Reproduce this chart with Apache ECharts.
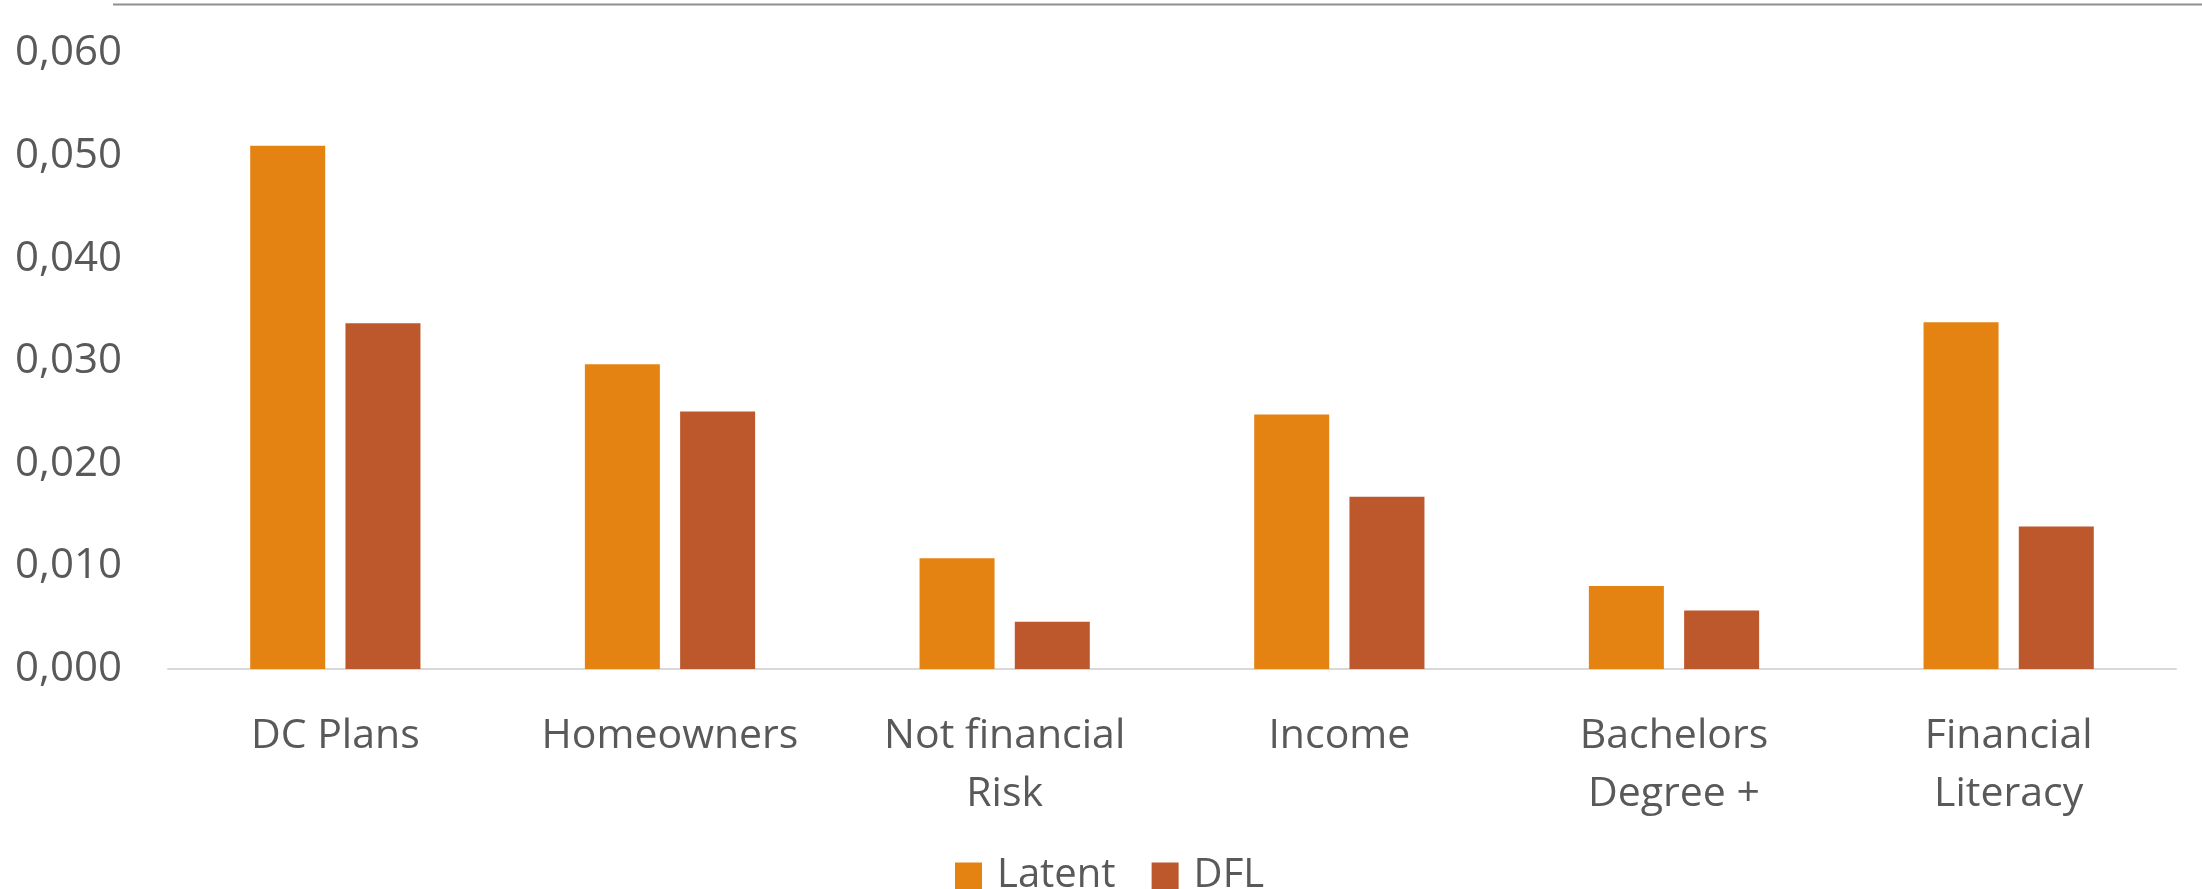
<!DOCTYPE html>
<html>
<head>
<meta charset="utf-8">
<script src="https://cdn.jsdelivr.net/npm/echarts@6/dist/echarts.min.js"></script>
<style>
  html, body { margin: 0; padding: 0; background: #ffffff; }
  #chart { width: 2202px; height: 889px; }
</style>
</head>
<body>
<div id="chart"></div>
<script>
// Categories and series values
const categories = ['DC Plans', 'Homeowners', 'Not financial\nRisk', 'Income', 'Bachelors\nDegree +', 'Financial\nLiteracy'];
const latentValues = [0.0510, 0.0297, 0.0108, 0.0248, 0.0081, 0.0338];
const dflValues = [0.0337, 0.0251, 0.0046, 0.0168, 0.0057, 0.0139];
const seriesNames = ['Latent', 'DFL'];

const FONT = '"Open Sans", "Noto Sans", sans-serif';
const TEXT_COLOR = '#595959';

const chart = echarts.init(document.getElementById('chart'));

chart.setOption({
  backgroundColor: '#ffffff',
  animation: false,
  textStyle: { fontFamily: FONT },
  graphic: [{
    type: 'line',
    shape: { x1: 113, y1: 4.5, x2: 2202, y2: 4.5 },
    style: { stroke: '#8f8f8f', lineWidth: 2 },
    silent: true
  }],
  legend: {
    data: seriesNames,
    left: 955,
    top: 856,
    padding: 0,
    itemWidth: 27,
    itemHeight: 27,
    itemGap: 36,
    icon: 'rect',
    textStyle: { fontFamily: FONT, fontSize: 40, color: TEXT_COLOR, padding: [0, 0, 0, 10] }
  },
  grid: { left: 168, right: 26, top: 53.4, bottom: 889 - 669, containLabel: false },
  xAxis: {
    type: 'category',
    data: categories,
    axisLine: { show: true, lineStyle: { color: '#d9d9d9', width: 2 } },
    axisTick: { show: false },
    axisLabel: {
      interval: 0,
      margin: 38,
      fontFamily: FONT,
      fontSize: 41,
      lineHeight: 58,
      color: TEXT_COLOR
    }
  },
  yAxis: {
    type: 'value',
    min: 0,
    max: 0.06,
    interval: 0.01,
    axisLine: { show: false },
    axisTick: { show: false },
    splitLine: { show: false },
    axisLabel: {
      margin: 46,
      fontFamily: FONT,
      fontSize: 42,
      color: TEXT_COLOR,
      formatter: v => v.toFixed(3).replace('.', ',')
    }
  },
  series: [
    {
      name: seriesNames[0],
      type: 'bar',
      data: latentValues,
      barWidth: 75,
      barGap: '27%',
      itemStyle: { color: '#E48312' }
    },
    {
      name: seriesNames[1],
      type: 'bar',
      data: dflValues,
      barWidth: 75,
      barGap: '27%',
      itemStyle: { color: '#BD582C' }
    }
  ]
});
</script>
</body>
</html>
